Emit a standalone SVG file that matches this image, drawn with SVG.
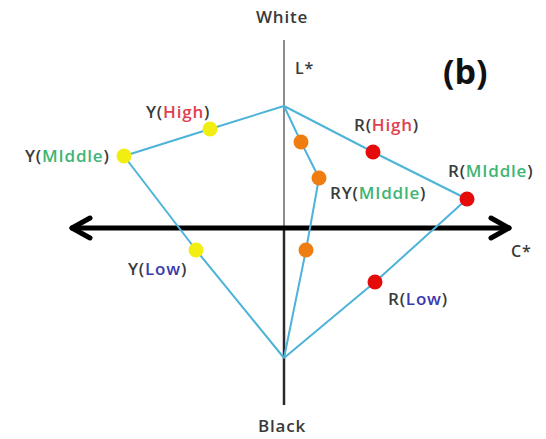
<svg xmlns="http://www.w3.org/2000/svg" width="546" height="439" viewBox="0 0 546 439">
<style>
text{font-family:"Open Sans","Liberation Sans",sans-serif;font-size:17px;fill:#3a3a3a;font-weight:600;letter-spacing:0.8px}
.hi{fill:#e0404f}.mid{fill:#3fb574}.low{fill:#3a3ab0}
.edge{fill:none;stroke:#4eb3d9;stroke-width:2;stroke-linejoin:round}
.y{fill:#f2ee12}.r{fill:#e50b0b}.o{fill:#ef7d10}
</style>
<rect width="546" height="439" fill="#fff"/>
<g id="axes">
<line x1="284" y1="40" x2="284" y2="226" stroke="#8c8c8c" stroke-width="2"/>
<line x1="284" y1="226" x2="284" y2="405" stroke="#2a2a2a" stroke-width="2.5"/>
<g stroke="#000" stroke-width="5" stroke-linecap="round" stroke-linejoin="round" fill="none">
<line x1="72" y1="228" x2="509" y2="228"/>
<polyline points="90,218 72,228 90,238"/>
<polyline points="491,218 509,228 491,238"/>
</g>
</g>
<g id="connectors">
<polyline class="edge" points="284,106 210,129 124,156 196,250 284,358"/>
<polyline class="edge" points="284,106 373,152 467,199 375,282 284,358"/>
<polyline class="edge" points="284,106 301,142 319,178 306,250 284,358"/>
</g>
<g id="Y-high"><circle class="y" cx="210" cy="129" r="7.5"/><text x="146" y="118">Y(<tspan class="hi">High</tspan>)</text></g>
<g id="Y-middle"><circle class="y" cx="124" cy="156" r="7.5"/><text x="25" y="162">Y(<tspan class="mid">MIddle</tspan>)</text></g>
<g id="Y-low"><circle class="y" cx="196" cy="250" r="7.5"/><text x="128" y="275">Y(<tspan class="low">Low</tspan>)</text></g>
<g id="RY-1"><circle class="o" cx="301" cy="142" r="7.5"/></g>
<g id="RY-middle"><circle class="o" cx="319" cy="178" r="7.5"/><text x="330" y="199">RY(<tspan class="mid">MIddle</tspan>)</text></g>
<g id="RY-3"><circle class="o" cx="306" cy="250" r="7.5"/></g>
<g id="R-high"><circle class="r" cx="373" cy="152" r="7.5"/><text x="354" y="131">R(<tspan class="hi">High</tspan>)</text></g>
<g id="R-middle"><circle class="r" cx="467" cy="199" r="7.5"/><text x="448" y="177">R(<tspan class="mid">MIddle</tspan>)</text></g>
<g id="R-low"><circle class="r" cx="375" cy="282" r="7.5"/><text x="388" y="305">R(<tspan class="low">Low</tspan>)</text></g>
<g id="labels">
<text x="256" y="23">White</text>
<text x="258" y="432">Black</text>
<text x="295" y="74" style="font-size:16px">L*</text>
<text x="511" y="257" style="font-size:16px">C*</text>
<text x="443" y="84" style="font-size:34px;font-weight:700;fill:#111;letter-spacing:0">(b)</text>
</g>
</svg>
